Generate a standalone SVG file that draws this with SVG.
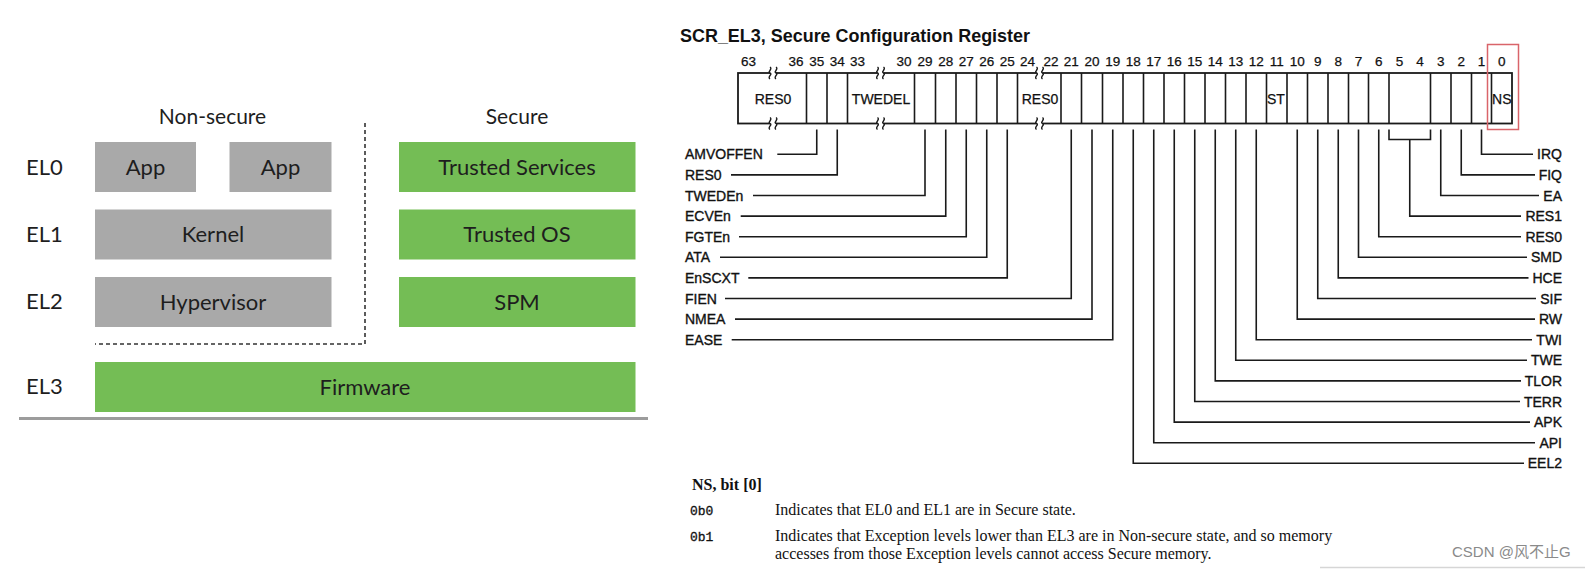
<svg xmlns="http://www.w3.org/2000/svg" width="1585" height="569" viewBox="0 0 1585 569">
<defs>
<style>
.lato{font-family:Lato,"Noto Sans",sans-serif;fill:#1e1e1e;}
.hdr{font-size:21px;text-anchor:middle;}
.el{font-size:22px;}
.bx{font-size:22px;text-anchor:middle;}
.gray{fill:#a9a9a9;}
.green{fill:#74bd55;}
.reg{font-family:"Liberation Sans",Arial,sans-serif;fill:#111;}
.bitn{font-size:13.5px;text-anchor:middle;stroke:#111;stroke-width:0.25;}
.fld{font-size:14px;text-anchor:middle;stroke:#111;stroke-width:0.25;}
.lbl{font-size:14px;stroke:#111;stroke-width:0.35;}
.lblr{font-size:14px;text-anchor:end;stroke:#111;stroke-width:0.35;}
.cell{fill:#fff;stroke:#1a1a1a;stroke-width:1.8;}
.div{stroke:#1a1a1a;stroke-width:1.6;}
.lead{fill:none;stroke:#1a1a1a;stroke-width:1.6;}
.sq{fill:none;stroke:#1a1a1a;stroke-width:1.4;}
.serif{font-family:"Liberation Serif","Times New Roman",serif;font-size:16px;fill:#111;}
.mono{font-family:"Liberation Mono","Courier New",monospace;font-size:13px;fill:#111;stroke:#111;stroke-width:0.3;}
</style>
<path id="sq" d="M0,-6 C3,-4 -3,-1 0,0 C3,1 -3,4 0,6"/>
</defs>
<rect width="1585" height="569" fill="#fff"/>

<!-- Left: exception level diagram -->
<g id="left-diagram">
  <g id="hdr-nonsecure"><text class="lato hdr" x="212.5" y="124">Non-secure</text></g>
  <g id="hdr-secure"><text class="lato hdr" x="517" y="124">Secure</text></g>
  <g id="el-labels">
    <text class="lato el" x="26" y="175">EL0</text>
    <text class="lato el" x="26" y="242">EL1</text>
    <text class="lato el" x="26" y="309">EL2</text>
    <text class="lato el" x="26" y="394">EL3</text>
  </g>
  <g id="app1"><rect class="gray" x="95" y="142" width="101" height="50"/><text class="lato bx" x="145.5" y="174.5">App</text></g>
  <g id="app2"><rect class="gray" x="229.5" y="142" width="102" height="50"/><text class="lato bx" x="280.5" y="174.5">App</text></g>
  <g id="kernel"><rect class="gray" x="95" y="209.5" width="236.5" height="50"/><text class="lato bx" x="213" y="242">Kernel</text></g>
  <g id="hypervisor"><rect class="gray" x="95" y="277" width="236.5" height="50"/><text class="lato bx" x="213" y="309.5">Hypervisor</text></g>
  <g id="trusted-services"><rect class="green" x="399" y="142" width="236.5" height="50"/><text class="lato bx" x="517" y="174.5">Trusted Services</text></g>
  <g id="trusted-os"><rect class="green" x="399" y="209.5" width="236.5" height="50"/><text class="lato bx" x="517" y="242">Trusted OS</text></g>
  <g id="spm"><rect class="green" x="399" y="277" width="236.5" height="50"/><text class="lato bx" x="517" y="309.5">SPM</text></g>
  <g id="firmware"><rect class="green" x="95" y="362" width="540.5" height="50"/><text class="lato bx" x="365" y="394.5">Firmware</text></g>
  <g id="boundary">
    <path d="M365,123 V344 H95" fill="none" stroke="#333" stroke-width="1.6" stroke-dasharray="4,3"/>
    <line x1="19" y1="418.5" x2="648" y2="418.5" stroke="#9c9c9c" stroke-width="3"/>
  </g>
</g>

<!-- Right: SCR_EL3 register -->
<g id="register" class="reg">
  <text x="680" y="42" font-size="18" font-weight="bold" textLength="350" lengthAdjust="spacingAndGlyphs">SCR_EL3, Secure Configuration Register</text>
  <g id="bit-numbers" class="reg bitn">
    <text x="748.5" y="66">63</text><text x="796" y="66">36</text><text x="816.75" y="66">35</text><text x="837.25" y="66">34</text>
    <text x="857.5" y="66">33</text><text x="904" y="66">30</text><text x="925" y="66">29</text><text x="945.75" y="66">28</text>
    <text x="966.25" y="66">27</text><text x="986.75" y="66">26</text><text x="1007.25" y="66">25</text><text x="1027.5" y="66">24</text>
    <text x="1051" y="66">22</text><text x="1071.25" y="66">21</text><text x="1092" y="66">20</text><text x="1112.75" y="66">19</text>
    <text x="1133.25" y="66">18</text><text x="1153.75" y="66">17</text><text x="1174.25" y="66">16</text><text x="1194.75" y="66">15</text>
    <text x="1215.25" y="66">14</text><text x="1235.75" y="66">13</text><text x="1256.25" y="66">12</text><text x="1276.75" y="66">11</text>
    <text x="1297.25" y="66">10</text><text x="1317.75" y="66">9</text><text x="1338.25" y="66">8</text><text x="1358.5" y="66">7</text>
    <text x="1378.75" y="66">6</text><text x="1399.5" y="66">5</text><text x="1420" y="66">4</text><text x="1440.75" y="66">3</text>
    <text x="1461.25" y="66">2</text><text x="1481.5" y="66">1</text><text x="1501.75" y="66">0</text>
  </g>
  <g id="register-box">
    <rect class="cell" x="738" y="73" width="774" height="50.5"/>
    <path class="div" d="M806.5,73V123.5M827,73V123.5M847.5,73V123.5M914.5,73V123.5M935.5,73V123.5M956,73V123.5M976.5,73V123.5M997,73V123.5M1017.5,73V123.5M1061,73V123.5M1081.5,73V123.5M1102.5,73V123.5M1123,73V123.5M1143.5,73V123.5M1164,73V123.5M1184.5,73V123.5M1205,73V123.5M1225.5,73V123.5M1246,73V123.5M1266.5,73V123.5M1287,73V123.5M1307.5,73V123.5M1328,73V123.5M1348.5,73V123.5M1368.5,73V123.5M1389,73V123.5M1430.5,73V123.5M1451,73V123.5M1471.5,73V123.5M1491.5,73V123.5"/>
    <g fill="#fff">
      <rect x="770" y="70" width="6" height="6"/><rect x="770" y="120.5" width="6" height="6"/>
      <rect x="877.5" y="70" width="6" height="6"/><rect x="877.5" y="120.5" width="6" height="6"/>
      <rect x="1036.5" y="70" width="6" height="6"/><rect x="1036.5" y="120.5" width="6" height="6"/>
    </g>
    <g class="sq">
      <use href="#sq" x="770" y="73"/><use href="#sq" x="776" y="73"/>
      <use href="#sq" x="770" y="123.5"/><use href="#sq" x="776" y="123.5"/>
      <use href="#sq" x="877.5" y="73"/><use href="#sq" x="883.5" y="73"/>
      <use href="#sq" x="877.5" y="123.5"/><use href="#sq" x="883.5" y="123.5"/>
      <use href="#sq" x="1036.5" y="73"/><use href="#sq" x="1042.5" y="73"/>
      <use href="#sq" x="1036.5" y="123.5"/><use href="#sq" x="1042.5" y="123.5"/>
    </g>
    <g class="reg fld">
      <text x="773" y="104">RES0</text>
      <text x="881" y="104">TWEDEL</text>
      <text x="1040" y="104">RES0</text>
      <text x="1267" y="104" style="text-anchor:start">ST</text>
      <text x="1501.75" y="104">NS</text>
    </g>
    <rect x="1487.5" y="44.5" width="31" height="85" fill="none" stroke="#d9646a" stroke-width="1.5"/>
  </g>

  <g id="connectors">
    <path class="lead" d="M777.3,154.3H816.75V129.5"/>
    <path class="lead" d="M731,174.9H837.25V129.5"/>
    <path class="lead" d="M753,195.5H925V129.5"/>
    <path class="lead" d="M740.7,216.1H945.75V129.5"/>
    <path class="lead" d="M739,236.7H966.25V129.5"/>
    <path class="lead" d="M720,257.3H986.75V129.5"/>
    <path class="lead" d="M748.3,277.9H1007.25V129.5"/>
    <path class="lead" d="M725,298.5H1071.25V129.5"/>
    <path class="lead" d="M735,319.1H1092V129.5"/>
    <path class="lead" d="M731.7,339.7H1112.75V129.5"/>

    <path class="lead" d="M1533,154.3H1481.5V129.5"/>
    <path class="lead" d="M1535,174.9H1461.25V129.5"/>
    <path class="lead" d="M1539,195.5H1440.75V129.5"/>
    <path class="lead" d="M1389,129.5V139.5H1430.5V129.5M1409.75,139.5V216.1H1521"/>
    <path class="lead" d="M1521,236.7H1378.75V129.5"/>
    <path class="lead" d="M1527,257.3H1358.5V129.5"/>
    <path class="lead" d="M1528.5,277.9H1338.25V129.5"/>
    <path class="lead" d="M1536,298.5H1317.75V129.5"/>
    <path class="lead" d="M1535,319.1H1297.25V129.5"/>
    <path class="lead" d="M1532,339.7H1256.25V129.5"/>
    <path class="lead" d="M1527,360.3H1235.75V129.5"/>
    <path class="lead" d="M1521,380.9H1215.25V129.5"/>
    <path class="lead" d="M1520,401.5H1194.75V129.5"/>
    <path class="lead" d="M1530,422.1H1174.25V129.5"/>
    <path class="lead" d="M1535,442.7H1153.75V129.5"/>
    <path class="lead" d="M1524,463.3H1133.25V129.5"/>
  </g>

  <g id="field-labels-left" class="reg lbl">
    <text x="685" y="159.3">AMVOFFEN</text>
    <text x="685" y="179.9">RES0</text>
    <text x="685" y="200.5">TWEDEn</text>
    <text x="685" y="221.1">ECVEn</text>
    <text x="685" y="241.7">FGTEn</text>
    <text x="685" y="262.3">ATA</text>
    <text x="685" y="282.9">EnSCXT</text>
    <text x="685" y="303.5">FIEN</text>
    <text x="685" y="324.1">NMEA</text>
    <text x="685" y="344.7">EASE</text>
  </g>
  <g id="field-labels-right" class="reg lblr">
    <text x="1562" y="159.3">IRQ</text>
    <text x="1562" y="179.9">FIQ</text>
    <text x="1562" y="200.5">EA</text>
    <text x="1562" y="221.1">RES1</text>
    <text x="1562" y="241.7">RES0</text>
    <text x="1562" y="262.3">SMD</text>
    <text x="1562" y="282.9">HCE</text>
    <text x="1562" y="303.5">SIF</text>
    <text x="1562" y="324.1">RW</text>
    <text x="1562" y="344.7">TWI</text>
    <text x="1562" y="365.3">TWE</text>
    <text x="1562" y="385.9">TLOR</text>
    <text x="1562" y="406.5">TERR</text>
    <text x="1562" y="427.1">APK</text>
    <text x="1562" y="447.7">API</text>
    <text x="1562" y="468.3">EEL2</text>
  </g>
</g>

<g id="ns-description">
  <text class="serif" x="692" y="490" font-weight="bold">NS, bit [0]</text>
  <text class="mono" x="690" y="515">0b0</text>
  <text class="serif" x="775" y="515">Indicates that EL0 and EL1 are in Secure state.</text>
  <text class="mono" x="690" y="541">0b1</text>
  <text class="serif" x="775" y="541">Indicates that Exception levels lower than EL3 are in Non-secure state, and so memory</text>
  <text class="serif" x="775" y="559">accesses from those Exception levels cannot access Secure memory.</text>
</g>

<g id="watermark">
  <text x="1452" y="557" font-family="'Liberation Sans','Noto Sans CJK SC',sans-serif" font-size="15" fill="#8a8a8a">CSDN @风不止G</text>
  <line x1="1320" y1="567.5" x2="1585" y2="567.5" stroke="#d6d6d6" stroke-width="1.5"/>
</g>
</svg>
